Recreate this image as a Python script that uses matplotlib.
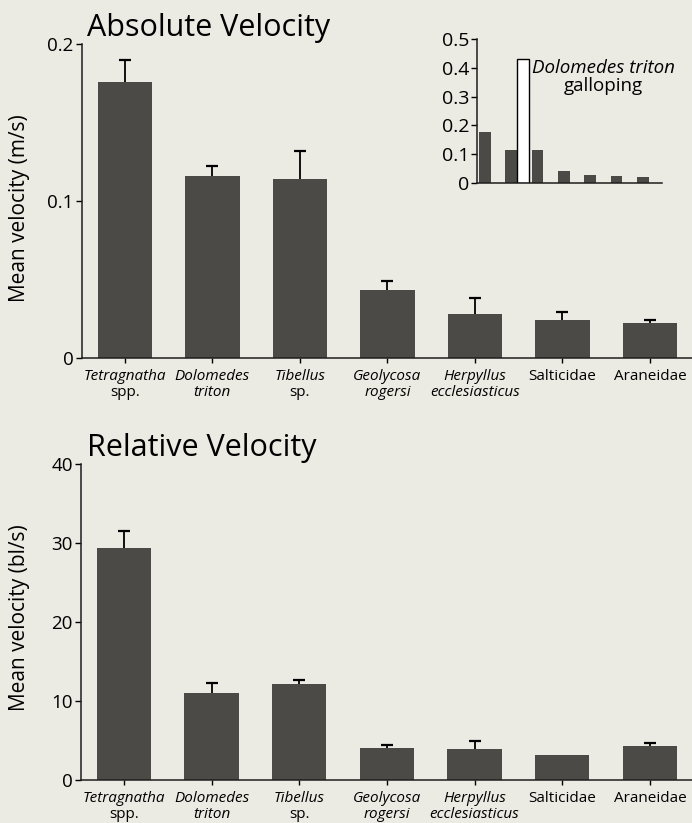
import numpy as np
import matplotlib.pyplot as plt

plt.rcParams['font.family'] = 'Open Sans'

# categories (two-line tick labels, italic where the original uses Latin names)
genus = ['Tetragnatha', 'Dolomedes', 'Tibellus', 'Geolycosa', 'Herpyllus', 'Salticidae', 'Araneidae']
species = ['spp.', 'triton', 'sp.', 'rogersi', 'ecclesiasticus', '', '']
genus_italic = [True, True, True, True, True, False, False]
species_italic = [False, True, False, True, True, False, False]

# absolute velocity (m/s)
abs_mean = [0.176, 0.116, 0.114, 0.043, 0.028, 0.024, 0.022]
abs_err = [0.014, 0.006, 0.018, 0.006, 0.010, 0.005, 0.002]

# relative velocity (body lengths / s)
rel_mean = [29.4, 11.0, 12.2, 4.0, 3.9, 3.2, 4.3]
rel_err = [2.1, 1.3, 0.4, 0.4, 1.0, 0.0, 0.4]

# inset: Dolomedes triton galloping
gallop = 0.43

BG = '#ebebe3'
BAR = '#4b4a47'
W, H = 692, 823

fig = plt.figure(figsize=(W / 100, H / 100), dpi=100, facecolor=BG)


def panel(rect, means, errs, ylim, yticks, yticklabels, title, ylabel, title_y, ylabel_y):
    ax = fig.add_axes(rect, facecolor=BG)
    x = np.arange(len(means))
    ax.bar(x, means, width=0.62, color=BAR, edgecolor='none', zorder=2)
    errs = np.asarray(errs)
    m = errs > 0
    eb = ax.errorbar(x[m], np.asarray(means)[m], yerr=[np.zeros(m.sum()), errs[m]], fmt='none',
                     ecolor='black', elinewidth=1.3, capsize=4.5, capthick=1.6, zorder=3)
    eb[1][0].set_visible(False)  # no lower caps, only the upper half is shown
    ax.set_xlim(-0.49, 6.48)
    ax.set_ylim(*ylim)
    ax.set_yticks(yticks)
    ax.set_yticklabels(yticklabels)
    ax.set_xticks(x)
    ax.set_xticklabels([])
    for s in ['top', 'right']:
        ax.spines[s].set_visible(False)
    for s in ['left', 'bottom']:
        ax.spines[s].set_linewidth(1.1)
        ax.spines[s].set_color('#1e1e1e')
    ax.tick_params(axis='y', direction='out', length=4.5, width=1, pad=1.5, labelsize=13.5)
    ax.tick_params(axis='x', direction='out', length=3.5, width=1)
    tr = ax.get_xaxis_transform()
    for i in range(len(genus)):
        ax.annotate(genus[i], xy=(i, 0), xycoords=tr, xytext=(0, -19), textcoords='offset pixels',
                    ha='center', va='center', fontsize=11,
                    style='italic' if genus_italic[i] else 'normal')
        if species[i]:
            ax.annotate(species[i], xy=(i, 0), xycoords=tr, xytext=(0, -35), textcoords='offset pixels',
                        ha='center', va='center', fontsize=11,
                        style='italic' if species_italic[i] else 'normal')
    fig.text(87 / W, title_y, title, fontsize=22, ha='left', va='baseline')
    fig.text(20 / W, ylabel_y, ylabel, fontsize=15, rotation=90, ha='center', va='center')
    return ax


ax1 = panel([82 / W, 1 - 358 / H, 1 - 82 / W, (358 - 44) / H], abs_mean, abs_err,
            (0, 0.2), [0, 0.1, 0.2], ['0', '0.1', '0.2'],
            'Absolute Velocity', 'Mean velocity (m/s)', 1 - 36 / H, 1 - 208 / H)

ax2 = panel([81 / W, 1 - 780 / H, 1 - 81 / W, (780 - 464) / H], rel_mean, rel_err,
            (0, 40), [0, 10, 20, 30, 40], ['0', '10', '20', '30', '40'],
            'Relative Velocity', 'Mean velocity (bl/s)', 1 - 456 / H, 1 - 618 / H)

# inset with the galloping bar
axi = fig.add_axes([477 / W, 1 - 183 / H, (662 - 477) / W, (183 - 39) / H], facecolor='none')
xi = np.arange(len(abs_mean))
axi.bar(xi, abs_mean, width=0.45, color=BAR, edgecolor='none')
axi.bar(1 + 0.45, gallop, width=0.45, color='white', edgecolor='black', linewidth=1)
axi.set_xlim(-0.3, 6.73)
axi.set_ylim(0, 0.5)
axi.set_yticks([0, 0.1, 0.2, 0.3, 0.4, 0.5])
axi.set_yticklabels(['0', '0.1', '0.2', '0.3', '0.4', '0.5'])
axi.set_xticks([])
for s in ['top', 'right']:
    axi.spines[s].set_visible(False)
for s in ['left', 'bottom']:
    axi.spines[s].set_linewidth(1.1)
    axi.spines[s].set_color('#1e1e1e')
axi.tick_params(axis='y', direction='out', length=4, width=1, pad=1.5, labelsize=14)
fig.text(603 / W, 1 - 68 / H, 'Dolomedes triton', fontsize=13.5, style='italic', ha='center', va='center')
fig.text(603 / W, 1 - 86 / H, 'galloping', fontsize=13.5, ha='center', va='center')

fig.savefig('out.png', dpi=100, facecolor=BG)
